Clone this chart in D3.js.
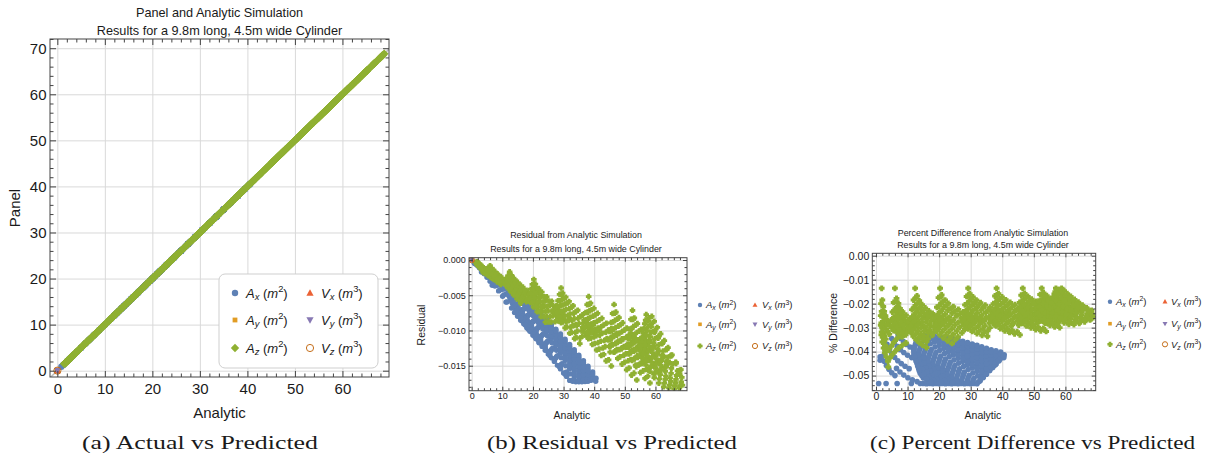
<!DOCTYPE html>
<html><head><meta charset="utf-8">
<script src="https://cdn.jsdelivr.net/npm/d3@7"></script>
<style>
body{margin:0;background:#fff}
svg{display:block}
text{font-family:"Liberation Sans",Arial,sans-serif;fill:#1a1a1a}
</style></head>
<body><svg id="chart" width="1208" height="462"></svg>
<script>
// ---------------- DATA ----------------
// Analytic value and percent difference (Panel vs Analytic) for A_x and A_z
const axPoints = [
[0.85,-.0533],[3.2,-.0533],[6.7,-.0533],[11.2,-.0533],[1.3,-.0422],[1.3,-.0436],
[2.1,-.0320],[2.3,-.0335],[2.5,-.0350],[2.6,-.0365],[2.8,-.0380],[3.0,-.0395],
[2.0,-.0420],[2.6,-.0440],[3.3,-.0458],[4.1,-.0474],[5.0,-.0488],[6.0,-.0500],
[3.5,-.0370],[4.2,-.0390],[5.0,-.0408],[5.9,-.0424],[6.9,-.0438],[8.0,-.0450],[9.2,-.0461],[10.5,-.0471],
[5.0,-.0345],[5.8,-.0362],[6.7,-.0378],[7.7,-.0392],[8.8,-.0404],[10.0,-.0415],[11.3,-.0425],
[7.0,-.0330],[7.8,-.0345],[8.7,-.0358],[9.7,-.0370],[10.8,-.0381],[12.0,-.0390],
[6.5,-.0470],[7.6,-.0485],[8.8,-.0498],[10.1,-.0509],[11.5,-.0518],[13.0,-.0525],
[13,-.0350],[14.5,-.0364],[16,-.0377],[17.5,-.0391],[19,-.0404],[20.5,-.0418],[22,-.0431],[23.5,-.0445],[25,-.0458],[26.5,-.0472],[28,-.0485],[29.5,-.0499],[31,-.0512],[32.5,-.0526],
[12.5,-.0370],[14,-.0384],[15.5,-.0397],[17,-.0411],[18.5,-.0424],[20,-.0438],[21.5,-.0451],[23,-.0465],[24.5,-.0478],[26,-.0492],[27.5,-.0505],[29,-.0519],[30.5,-.0532],
[12,-.0390],[13.5,-.0404],[15,-.0417],[16.5,-.0431],[18,-.0444],[19.5,-.0458],[21,-.0471],[22.5,-.0485],[24,-.0498],[25.5,-.0512],[27,-.0525],
[12,-.0410],[13.5,-.0424],[15,-.0437],[16.5,-.0451],[18,-.0464],[19.5,-.0478],[21,-.0491],[22.5,-.0505],[24,-.0518],[25.5,-.0532],
[12.5,-.0430],[14,-.0444],[15.5,-.0457],[17,-.0471],[18.5,-.0484],[20,-.0498],[21.5,-.0511],[23,-.0525],
[13,-.0450],[14.5,-.0464],[16,-.0477],[17.5,-.0491],[19,-.0504],[20.5,-.0518],[22,-.0531],
[13.5,-.0470],[15,-.0484],[16.5,-.0497],[18,-.0511],[19.5,-.0524],
[14,-.0490],[15.5,-.0504],[17,-.0517],[18.5,-.0531],[15,-.0510],[16.5,-.0524],
[15.5,-.0333],[17,-.0347],[18.5,-.0360],[20,-.0374],[21.5,-.0387],[23,-.0401],[24.5,-.0414],[26,-.0428],[27.5,-.0441],[29,-.0455],[30.5,-.0468],[32,-.0482],[33.5,-.0495],
[18.5,-.0335],[20,-.0349],[21.5,-.0362],[23,-.0376],[24.5,-.0389],[26,-.0403],[27.5,-.0416],[29,-.0430],[30.5,-.0443],[32,-.0457],[33.5,-.0470],[35,-.0484],
[21.5,-.0340],[23,-.0354],[24.5,-.0367],[26,-.0381],[27.5,-.0394],[29,-.0408],[30.5,-.0421],[32,-.0435],[33.5,-.0448],[35,-.0462],[36.2,-.0473],
[24.5,-.0347],[26,-.0361],[27.5,-.0374],[29,-.0388],[30.5,-.0401],[32,-.0415],[33.5,-.0428],[35,-.0442],[36.5,-.0455],
[27.5,-.0357],[29,-.0371],[30.5,-.0384],[32,-.0398],[33.5,-.0411],[35,-.0425],[36.5,-.0438],[38,-.0452],
[30.5,-.0368],[32,-.0382],[33.5,-.0395],[35,-.0409],[36.5,-.0422],[38,-.0436],
[33.5,-.0380],[35,-.0394],[36.5,-.0407],[38,-.0421],[39.2,-.0432],
[36.5,-.0392],[38,-.0406],[39.5,-.0419],[40.5,-.0425],[39.5,-.0402],[40.6,-.0413],
[14,-.0533],[15,-.0533],[16,-.0534],[17,-.0533],[18,-.0534],[19,-.0533],[20,-.0534],[21,-.0533],[22,-.0534],[23,-.0533],
[24,-.0534],[25,-.0533],[26,-.0534],[27,-.0533],[28,-.0534],[29,-.0533],[30,-.0534],[31,-.0533],[32,-.0534],
[33,-.0522],[34,-.0508],[35,-.0494],[36,-.0480],[37,-.0466],[38,-.0452],[39,-.0438],[40,-.0424],
[12.7,-.0360],[14.2,-.0374],[15.7,-.0387],[17.2,-.0401],[18.7,-.0414],[20.2,-.0428],[21.7,-.0441],[23.2,-.0455],[24.7,-.0468],[26.2,-.0482],[27.7,-.0495],[29.2,-.0509],[30.7,-.0522],
[12.2,-.0380],[13.7,-.0394],[15.2,-.0407],[16.7,-.0421],[18.2,-.0434],[19.7,-.0448],[21.2,-.0461],[22.7,-.0475],[24.2,-.0488],[25.7,-.0502],[27.2,-.0515],[28.7,-.0529],
[12.0,-.0400],[13.5,-.0414],[15.0,-.0427],[16.5,-.0441],[18.0,-.0454],[19.5,-.0468],[21.0,-.0481],[22.5,-.0495],[24.0,-.0508],[25.5,-.0522],
[12.2,-.0420],[13.7,-.0434],[15.2,-.0447],[16.7,-.0461],[18.2,-.0474],[19.7,-.0488],[21.2,-.0501],[22.7,-.0515],[24.2,-.0528],
[12.7,-.0440],[14.2,-.0454],[15.7,-.0467],[17.2,-.0481],[18.7,-.0494],[20.2,-.0508],[21.7,-.0521],
[13.2,-.0460],[14.7,-.0474],[16.2,-.0487],[17.7,-.0501],[19.2,-.0514],[20.7,-.0528],
[13.7,-.0480],[15.2,-.0494],[16.7,-.0507],[18.2,-.0521],[14.5,-.0500],[16.0,-.0514],[17.5,-.0527],
[14.2,-.0340],[15.7,-.0354],[17.2,-.0367],[18.7,-.0381],[20.2,-.0394],[21.7,-.0408],[23.2,-.0421],[24.7,-.0435],[26.2,-.0448],[27.7,-.0462],[29.2,-.0475],[30.7,-.0489],[32.2,-.0502],[33.2,-.0514],
[17.0,-.0334],[18.5,-.0348],[20.0,-.0361],[21.5,-.0375],[23.0,-.0388],[24.5,-.0402],[26.0,-.0415],[27.5,-.0429],[29.0,-.0442],[30.5,-.0456],[32.0,-.0469],[33.5,-.0483],[34.8,-.0494],
[20.0,-.0337],[21.5,-.0351],[23.0,-.0364],[24.5,-.0378],[26.0,-.0391],[27.5,-.0405],[29.0,-.0418],[30.5,-.0432],[32.0,-.0445],[33.5,-.0459],[35.0,-.0472],
[23.0,-.0343],[24.5,-.0357],[26.0,-.0370],[27.5,-.0384],[29.0,-.0397],[30.5,-.0411],[32.0,-.0424],[33.5,-.0438],[35.0,-.0451],[36.5,-.0465],
[26.0,-.0351],[27.5,-.0365],[29.0,-.0378],[30.5,-.0392],[32.0,-.0405],[33.5,-.0419],[35.0,-.0432],[36.5,-.0446],[37.6,-.0457],
[29.0,-.0362],[30.5,-.0376],[32.0,-.0389],[33.5,-.0403],[35.0,-.0416],[36.5,-.0430],[38.0,-.0443],
[32.0,-.0374],[33.5,-.0388],[35.0,-.0401],[36.5,-.0415],[38.0,-.0428],[38.8,-.0438],
[35.0,-.0386],[36.5,-.0400],[38.0,-.0413],[39.5,-.0427],[38.0,-.0397],[39.5,-.0410],[40.4,-.0419]
];
const azPoints = [
[1.8,-.0136],[2.0,-.0185],[2.3,-.0212],[2.6,-.0232],[3.0,-.0250],[3.4,-.0265],[3.9,-.0279],[4.4,-.0291],[5.0,-.0302],[5.6,-.0312],
[1.6,-.0200],[1.8,-.0232],[2.1,-.0255],[2.4,-.0274],[2.8,-.0290],[3.2,-.0304],[3.7,-.0316],[4.2,-.0327],
[1.5,-.0250],[1.7,-.0280],[2.0,-.0302],[2.3,-.0320],[2.7,-.0335],[3.1,-.0348],
[1.5,-.0290],[1.8,-.0318],[2.1,-.0340],[2.5,-.0358],[2.9,-.0373],[3.4,-.0387],
[1.7,-.0330],[2.0,-.0360],[2.4,-.0385],[2.8,-.0405],[3.3,-.0422],[3.8,-.0440],[3.9,-.0464],
[4.0,-.0395],[4.8,-.0378],[5.6,-.0362],[6.5,-.0348],[7.5,-.0336],[8.6,-.0325],[9.8,-.0316],
[4.5,-.0425],[5.3,-.0410],[6.2,-.0397],[7.2,-.0385],[8.3,-.0374],[9.5,-.0364],
[6.0,-.0136],[6.5,-.0178],[7.1,-.0199],[7.6,-.0220],[8.4,-.0234],[9.5,-.0248],[10.8,-.0262],[12.2,-.0273],[13.7,-.0283],
[5.6,-.0195],[6.1,-.0222],[6.7,-.0240],[7.4,-.0254],[8.2,-.0266],[9.1,-.0277],[10.1,-.0287],[11.2,-.0296],
[5.2,-.0235],[5.7,-.0258],[6.3,-.0274],[7.0,-.0288],[7.8,-.0299],[8.7,-.0309],[9.7,-.0318],
[4.8,-.0270],[5.3,-.0290],[5.9,-.0305],[6.6,-.0318],[7.4,-.0329],[8.3,-.0338],
[6.3,-.0190],[6.9,-.0212],[7.5,-.0230],[8.2,-.0244],[9.1,-.0257],[10.2,-.0270],[11.4,-.0280],[12.8,-.0289],
[5.8,-.0228],[6.4,-.0250],[7.1,-.0266],[7.9,-.0279],[8.8,-.0290],[9.8,-.0300],[10.9,-.0309],
[5.4,-.0262],[6.0,-.0282],[6.7,-.0297],[7.5,-.0310],[8.4,-.0321],[9.4,-.0330],
[12.4,-.0136],[13.0,-.0168],[13.7,-.0188],[14.6,-.0204],[15.6,-.0218],[16.7,-.0230],[17.9,-.0241],[19.2,-.0251],[20.6,-.0260],[22.1,-.0268],[23.7,-.0275],
[11.9,-.0185],[12.5,-.0207],[13.3,-.0224],[14.2,-.0238],[15.2,-.0250],[16.3,-.0261],[17.5,-.0271],[18.8,-.0280],[20.2,-.0288],
[11.4,-.0225],[12.0,-.0246],[12.8,-.0262],[13.7,-.0276],[14.7,-.0288],[15.8,-.0299],[17.0,-.0309],[18.3,-.0318],
[10.9,-.0262],[11.5,-.0283],[12.3,-.0299],[13.2,-.0313],[14.2,-.0325],[15.3,-.0336],[16.5,-.0346],
[10.4,-.0300],[11.0,-.0320],[11.8,-.0336],[12.7,-.0350],[13.7,-.0362],[14.8,-.0373],[16.0,-.0383],
[12.6,-.0175],[13.3,-.0197],[14.1,-.0214],[15.1,-.0228],[16.2,-.0241],[17.4,-.0252],[18.7,-.0262],[20.1,-.0271],[21.6,-.0279],[23.2,-.0286],
[12.1,-.0215],[12.8,-.0236],[13.7,-.0251],[14.7,-.0264],[15.8,-.0276],[17.0,-.0287],[18.3,-.0297],[19.7,-.0305],
[11.6,-.0255],[12.3,-.0273],[13.2,-.0288],[14.2,-.0301],[15.3,-.0313],[16.5,-.0323],[17.8,-.0332],
[11.1,-.0292],[11.8,-.0310],[12.7,-.0325],[13.7,-.0338],[14.8,-.0349],[16.0,-.0359],
[20.3,-.0136],[20.8,-.0164],[21.9,-.0185],[22.9,-.0199],[24.5,-.0213],[26.1,-.0224],[27.7,-.0234],[29.8,-.0248],[31.9,-.0258],[34.0,-.0269],
[19.8,-.0175],[20.6,-.0198],[21.6,-.0214],[22.8,-.0228],[24.1,-.0240],[25.5,-.0251],[27.0,-.0261],[28.6,-.0270],[30.3,-.0279],
[19.3,-.0215],[20.1,-.0236],[21.1,-.0252],[22.3,-.0266],[23.6,-.0278],[25.0,-.0289],[26.5,-.0299],[28.1,-.0308],
[18.8,-.0255],[19.6,-.0275],[20.6,-.0291],[21.8,-.0305],[23.1,-.0317],[24.5,-.0328],[26.0,-.0338],
[18.4,-.0295],[19.2,-.0314],[20.2,-.0330],[21.4,-.0343],[22.7,-.0355],[24.1,-.0366],
[20.5,-.0172],[21.3,-.0192],[22.4,-.0207],[23.7,-.0220],[25.1,-.0232],[26.6,-.0243],[28.2,-.0252],[29.9,-.0262],[31.7,-.0270],[33.4,-.0278],
[20.0,-.0210],[20.8,-.0229],[21.9,-.0244],[23.2,-.0257],[24.6,-.0268],[26.1,-.0278],[27.7,-.0287],[29.4,-.0295],
[19.5,-.0250],[20.3,-.0267],[21.4,-.0281],[22.7,-.0293],[24.1,-.0304],[25.6,-.0314],[27.2,-.0322],
[19.0,-.0288],[19.8,-.0304],[20.9,-.0318],[22.2,-.0330],[23.6,-.0341],[25.1,-.0350],
[29.2,-.0136],[29.7,-.0158],[30.7,-.0172],[31.8,-.0185],[33.1,-.0196],[34.6,-.0206],[36.2,-.0215],[37.9,-.0224],[39.7,-.0232],[41.6,-.0240],
[28.7,-.0170],[29.5,-.0190],[30.6,-.0204],[31.9,-.0216],[33.3,-.0227],[34.8,-.0237],[36.4,-.0246],[38.1,-.0254],[39.9,-.0262],
[28.2,-.0205],[29.0,-.0224],[30.1,-.0238],[31.4,-.0250],[32.8,-.0261],[34.3,-.0271],[35.9,-.0280],[37.6,-.0288],
[27.7,-.0240],[28.5,-.0258],[29.6,-.0272],[30.9,-.0284],[32.3,-.0295],[33.8,-.0305],[35.4,-.0313],
[27.3,-.0275],[28.1,-.0292],[29.2,-.0305],[30.5,-.0316],[32.0,-.0325],[33.6,-.0332],[35.3,-.0336],
[29.4,-.0165],[30.2,-.0182],[31.3,-.0195],[32.6,-.0206],[34.0,-.0216],[35.5,-.0226],[37.2,-.0235],[38.9,-.0243],[40.7,-.0251],
[28.9,-.0200],[29.7,-.0215],[30.8,-.0228],[32.1,-.0239],[33.5,-.0249],[35.0,-.0258],[36.6,-.0267],[38.3,-.0275],
[28.4,-.0233],[29.2,-.0249],[30.3,-.0262],[31.6,-.0273],[33.0,-.0283],[34.5,-.0292],[36.1,-.0300],
[27.9,-.0268],[28.7,-.0283],[29.8,-.0295],[31.1,-.0306],[32.6,-.0315],[34.2,-.0322],
[38.2,-.0136],[38.8,-.0158],[39.9,-.0172],[41.1,-.0184],[42.5,-.0195],[44.0,-.0204],[45.6,-.0213],[47.3,-.0221],[49.1,-.0228],[51.0,-.0235],
[37.7,-.0168],[38.5,-.0187],[39.6,-.0201],[40.9,-.0213],[42.3,-.0224],[43.8,-.0234],[45.4,-.0243],[47.1,-.0251],[48.9,-.0258],
[37.2,-.0200],[38.0,-.0218],[39.1,-.0232],[40.4,-.0244],[41.8,-.0255],[43.3,-.0264],[44.9,-.0273],[46.6,-.0280],
[36.7,-.0232],[37.5,-.0249],[38.6,-.0262],[39.9,-.0274],[41.3,-.0284],[42.8,-.0292],
[36.2,-.0264],[37.0,-.0280],[38.1,-.0293],[39.4,-.0304],[40.8,-.0313],[42.3,-.0320],[43.9,-.0326],[45.6,-.0330],
[38.4,-.0164],[39.2,-.0180],[40.4,-.0193],[41.7,-.0204],[43.1,-.0214],[44.6,-.0223],[46.2,-.0232],[47.9,-.0240],[49.7,-.0247],
[37.9,-.0195],[38.7,-.0210],[39.9,-.0223],[41.2,-.0234],[42.6,-.0244],[44.1,-.0253],[45.7,-.0261],[47.4,-.0268],
[37.4,-.0227],[38.2,-.0241],[39.4,-.0253],[40.7,-.0264],[42.1,-.0274],[43.6,-.0282],[45.2,-.0289],
[36.9,-.0259],[37.7,-.0273],[38.9,-.0285],[40.2,-.0295],[41.6,-.0304],[43.1,-.0311],[44.7,-.0317],
[46.5,-.0136],[47.1,-.0157],[48.1,-.0170],[49.3,-.0181],[50.6,-.0191],[52.0,-.0200],[53.5,-.0208],[55.1,-.0216],[56.8,-.0223],
[46.0,-.0165],[46.8,-.0183],[47.9,-.0196],[49.1,-.0207],[50.5,-.0217],[52.0,-.0226],[53.6,-.0234],[55.3,-.0241],[57.0,-.0248],
[45.5,-.0195],[46.3,-.0212],[47.4,-.0225],[48.7,-.0236],[50.1,-.0246],[51.6,-.0254],[53.2,-.0262],[54.9,-.0269],
[45.0,-.0225],[45.8,-.0241],[46.9,-.0253],[48.2,-.0264],[49.6,-.0273],[51.1,-.0280],
[44.5,-.0255],[45.3,-.0270],[46.4,-.0282],[47.7,-.0293],[49.1,-.0301],[50.6,-.0308],[52.2,-.0313],[53.9,-.0316],
[46.7,-.0162],[47.5,-.0177],[48.6,-.0189],[49.9,-.0199],[51.3,-.0208],[52.8,-.0217],[54.4,-.0225],[56.1,-.0232],
[46.2,-.0190],[47.0,-.0204],[48.2,-.0216],[49.5,-.0226],[50.9,-.0235],[52.4,-.0244],[54.0,-.0252],[55.7,-.0259],
[45.7,-.0220],[46.5,-.0233],[47.7,-.0245],[49.0,-.0255],[50.4,-.0264],[51.9,-.0272],[53.5,-.0279],
[45.2,-.0250],[46.0,-.0262],[47.2,-.0273],[48.5,-.0283],[49.9,-.0291],[51.4,-.0298],[53.0,-.0303],
[52.5,-.0136],[53.1,-.0155],[54.1,-.0167],[55.3,-.0178],[56.6,-.0187],[58.0,-.0196],[59.5,-.0204],[61.1,-.0211],[62.8,-.0218],[64.6,-.0225],
[52.0,-.0162],[52.8,-.0179],[53.9,-.0191],[55.1,-.0202],[56.5,-.0211],[58.0,-.0220],[59.6,-.0228],[61.3,-.0235],[63.0,-.0242],
[51.5,-.0190],[52.3,-.0206],[53.4,-.0218],[54.7,-.0229],[56.1,-.0238],[57.6,-.0247],[59.2,-.0254],[60.9,-.0261],
[51.0,-.0218],[51.8,-.0233],[52.9,-.0245],[54.2,-.0255],[55.6,-.0264],[57.1,-.0272],
[50.5,-.0245],[51.3,-.0260],[52.4,-.0272],[53.7,-.0282],[55.1,-.0290],[56.6,-.0297],[58.2,-.0300],
[52.7,-.0160],[53.5,-.0173],[54.6,-.0185],[55.9,-.0195],[57.3,-.0204],[58.8,-.0212],[60.4,-.0220],[62.0,-.0227],[63.7,-.0233],
[52.2,-.0187],[53.0,-.0200],[54.2,-.0211],[55.5,-.0221],[56.9,-.0230],[58.4,-.0238],[60.0,-.0245],[61.7,-.0252],
[51.7,-.0215],[52.5,-.0227],[53.7,-.0238],[55.0,-.0248],[56.4,-.0257],[57.9,-.0265],[59.5,-.0272],
[51.2,-.0242],[52.0,-.0253],[53.2,-.0264],[54.5,-.0273],[56.0,-.0281],[57.5,-.0287],
[57.0,-.0136],[57.7,-.0150],[58.6,-.0162],[59.7,-.0172],[60.9,-.0182],[62.2,-.0191],[63.6,-.0200],[65.1,-.0209],[66.7,-.0218],[68.3,-.0228],
[58.8,-.0136],[59.6,-.0146],[60.6,-.0158],[61.7,-.0170],[62.9,-.0182],[64.1,-.0194],[65.4,-.0206],[66.7,-.0220],[67.9,-.0238],[68.8,-.0258],
[56.5,-.0160],[57.3,-.0175],[58.3,-.0187],[59.4,-.0198],[60.7,-.0208],[62.1,-.0218],[63.6,-.0227],[65.2,-.0236],[66.9,-.0245],[68.4,-.0253],
[56.0,-.0185],[56.8,-.0200],[57.8,-.0212],[59.0,-.0223],[60.3,-.0233],[61.7,-.0242],[63.2,-.0250],[64.8,-.0258],[66.5,-.0262],
[55.5,-.0210],[56.3,-.0225],[57.4,-.0237],[58.7,-.0247],[60.1,-.0256],[61.6,-.0264],[63.2,-.0268],
[55.0,-.0235],[55.8,-.0250],[56.9,-.0262],[58.2,-.0272],[59.6,-.0280],[61.1,-.0286],[62.7,-.0287],[64.4,-.0282],[66.1,-.0276],[67.8,-.0268],
[57.9,-.0142],[58.7,-.0155],[59.8,-.0167],[61.0,-.0178],[62.3,-.0188],[63.7,-.0198],[65.1,-.0208],[66.6,-.0218],[68.0,-.0230],
[56.8,-.0150],[57.6,-.0164],[58.6,-.0176],[59.8,-.0187],[61.1,-.0197],[62.5,-.0207],[64.0,-.0216],[65.6,-.0225],[67.2,-.0234],[68.6,-.0243],
[56.2,-.0173],[57.0,-.0188],[58.1,-.0200],[59.3,-.0211],[60.6,-.0221],[62.0,-.0230],[63.5,-.0239],[65.1,-.0247],[66.7,-.0254],
[55.7,-.0198],[56.5,-.0213],[57.6,-.0225],[58.9,-.0235],[60.3,-.0245],[61.8,-.0253],[63.4,-.0260],[65.0,-.0265],
[55.2,-.0222],[56.0,-.0238],[57.1,-.0250],[58.4,-.0260],[59.8,-.0268],[61.3,-.0275],[62.9,-.0278],[64.6,-.0275],[66.3,-.0269],[68.0,-.0262]
];
// Analytic and Panel values for the series that sit at the origin
const ayPoints = [[0.02,0.02],[0.05,0.05]];
const vxPoints = [[0.01,0.01]];
const vyPoints = [[0.01,0.01]];
const vzPoints = [[0.01,0.01]];

const seriesKeys    = ['Ax','Ay','Az','Vx','Vy','Vz'];
const legendLetters = ['A','A','A','V','V','V'];
const legendSubs    = ['x','y','z','x','y','z'];
const legendPowers  = ['2','2','2','3','3','3'];
const seriesColors  = ['#5E81B5','#E19C24','#8FB032','#EB6235','#8778B3','#C56E1A'];

const xTicks        = [0,10,20,30,40,50,60];
const panelTicks    = [0,10,20,30,40,50,60,70];
const residualTicks = [0,-0.005,-0.010,-0.015];
const percentTicks  = [0,-0.01,-0.02,-0.03,-0.04,-0.05];

const titleLine1 = ['Panel and Analytic Simulation','Residual from Analytic Simulation','Percent Difference from Analytic Simulation'];
const titleLine2 = 'Results for a 9.8m long, 4.5m wide Cylinder';
const xLabel = 'Analytic';
const yLabels = ['Panel','Residual','% Difference'];
const captions = ['(a) Actual vs Predicted','(b) Residual vs Predicted','(c) Percent Difference vs Predicted'];

// ---------------- DRAWING ----------------
const svg = d3.select('#chart');

function symPath(kind, h){
  const p = d3.path();
  if(kind==='circle' || kind==='open'){ p.moveTo(h,0); p.arc(0,0,h,0,2*Math.PI); }
  else if(kind==='square'){ p.rect(-h,-h,2*h,2*h); }
  else if(kind==='diamond'){ p.moveTo(0,-h); p.lineTo(h,0); p.lineTo(0,h); p.lineTo(-h,0); p.closePath(); }
  else if(kind==='plus'){ const t=h*0.5; p.moveTo(-t,-h);p.lineTo(t,-h);p.lineTo(t,-t);p.lineTo(h,-t);p.lineTo(h,t);p.lineTo(t,t);p.lineTo(t,h);p.lineTo(-t,h);p.lineTo(-t,t);p.lineTo(-h,t);p.lineTo(-h,-t);p.lineTo(-t,-t);p.closePath(); }
  else if(kind==='triUp'){ p.moveTo(0,-h); p.lineTo(h*0.95,h*0.7); p.lineTo(-h*0.95,h*0.7); p.closePath(); }
  else if(kind==='triDown'){ p.moveTo(0,h); p.lineTo(h*0.95,-h*0.7); p.lineTo(-h*0.95,-h*0.7); p.closePath(); }
  return p.toString();
}
function drawMarker(g, key, cx, cy, sz, azKind){
  const i = seriesKeys.indexOf(key), col = seriesColors[i];
  const kinds = {Ax:['circle',sz.circle],Ay:['square',sz.square],Az:[azKind,sz.az],Vx:['triUp',sz.tri],Vy:['triDown',sz.tri],Vz:['open',sz.open]};
  const [k,h] = kinds[key];
  const el = g.append('path').attr('d', symPath(k,h)).attr('transform',`translate(${cx},${cy})`);
  if(k==='open') el.attr('fill','none').attr('stroke',col).attr('stroke-width',1);
  else el.attr('fill',col);
}

const charts = [
 {mode:'panel', l:50, r:389, t:39, b:377, xd:[-1.54,69.8], yd:[-1.37,72.0], yTicks:panelTicks,
  yMinor:d3.range(0,73,2).filter(v=>v%10!==0), yFmt:d3.format('d'), tickFs:15, padX:6, padY:3.5, maj:6, min:3.5,
  titleX:219.5, t1y:16.5, t2y:34.5, titleFs:12.7, xlY:418, xlX:219.5, ylX:15, ylY:208, labFs:15, azKind:'diamond',
  sz:{circle:3.2,square:2.6,az:4.3,tri:3.6,open:3.6}, refLine:true},
 {mode:'residual', l:469, r:687, t:257.7, b:390.7, xd:[-0.87,70.3], yd:[-0.01855,0.00033], yTicks:residualTicks,
  yMinor:d3.range(-18,1).filter(v=>v%5!==0).map(v=>v*0.001), yFmt:d3.format('.3f'), tickFs:9, padX:1.5, padY:3.3, maj:4, min:2.5,
  titleX:576, t1y:238.3, t2y:251.5, titleFs:8.9, xlY:419, xlX:572, ylX:421.7, ylY:325, labFs:10.5, azKind:'plus',
  sz:{circle:2.7,square:1.9,az:2.8,tri:2.8,open:2.8}},
 {mode:'percent', l:872.3, r:1095.7, t:253.3, b:390.7, xd:[-1.17,69.6], yd:[-0.0563,0.001], yTicks:percentTicks,
  yMinor:d3.range(-28,1).filter(v=>v%5!==0).map(v=>v*0.002), yFmt:d3.format('.2f'), tickFs:10.5, padX:1.5, padY:3, maj:4, min:2.5,
  titleX:983, t1y:235.5, t2y:247.8, titleFs:8.9, xlY:419, xlX:983, ylX:833.3, ylY:323, labFs:10.5, azKind:'plus',
  sz:{circle:2.8,square:1.9,az:2.9,tri:2.8,open:2.8}}
];

charts.forEach((c, ci) => {
  const x = d3.scaleLinear().domain(c.xd).range([c.l, c.r]);
  const y = d3.scaleLinear().domain(c.yd).range([c.b, c.t]);
  const W = c.r - c.l, H = c.b - c.t;
  const g = svg.append('g');
  const clean = s => { s.select('.domain').remove(); s.attr('font-family',null).attr('font-size',null).attr('fill',null); };
  const xMinor = d3.range(0,70,2).filter(v=>v%10!==0);

  g.append('g').attr('transform',`translate(0,${c.b})`)
    .call(d3.axisBottom(x).tickValues(xTicks).tickSize(-H).tickFormat(''))
    .call(clean).selectAll('line').attr('stroke','#d9d9d9');
  g.append('g').attr('transform',`translate(${c.l},0)`)
    .call(d3.axisLeft(y).tickValues(c.yTicks).tickSize(-W).tickFormat(''))
    .call(clean).selectAll('line').attr('stroke','#d9d9d9');

  const cid = 'clip'+ci;
  svg.append('clipPath').attr('id',cid).append('rect').attr('x',c.l).attr('y',c.t).attr('width',W).attr('height',H);
  const pg = g.append('g').attr('clip-path',`url(#${cid})`);

  if(c.refLine){
    pg.append('line').attr('x1',x(-5)).attr('y1',y(-5)).attr('x2',x(80)).attr('y2',y(80))
      .attr('stroke','#bdbdbd').attr('stroke-width',1.5);
  }

  const valOf = (a, pct) => c.mode==='panel' ? a + pct/100*a : (c.mode==='residual' ? pct/100*a : pct);
  const valOrigin = (a, p) => c.mode==='panel' ? p : (c.mode==='residual' ? p - a : null);

  const seriesData = {
    Ax: axPoints.map(d=>[d[0], valOf(d[0], d[1])]),
    Ay: ayPoints.map(d=>[d[0], valOrigin(d[0], d[1])]),
    Az: azPoints.map(d=>[d[0], valOf(d[0], d[1])]),
    Vx: vxPoints.map(d=>[d[0], valOrigin(d[0], d[1])]),
    Vy: vyPoints.map(d=>[d[0], valOrigin(d[0], d[1])]),
    Vz: vzPoints.map(d=>[d[0], valOrigin(d[0], d[1])])
  };
  seriesKeys.forEach(k => {
    seriesData[k].forEach(d => {
      if(d[1]===null) return;
      drawMarker(pg, k, x(d[0]), y(d[1]), c.sz, c.azKind);
    });
  });

  g.append('rect').attr('x',c.l).attr('y',c.t).attr('width',W).attr('height',H)
    .attr('fill','none').attr('stroke','#444').attr('stroke-width',1);

  const tickCol = '#444';
  const styleAx = (s) => { clean(s); s.attr('color',tickCol); };
  const bAx = g.append('g').attr('transform',`translate(0,${c.b})`)
    .call(d3.axisBottom(x).tickValues(xTicks).tickSizeInner(-c.maj).tickSizeOuter(0).tickPadding(c.padX).tickFormat(d3.format('d')))
    .call(styleAx);
  bAx.selectAll('text').attr('font-size',c.tickFs).style('fill','#1a1a1a');
  g.append('g').attr('transform',`translate(0,${c.b})`)
    .call(d3.axisBottom(x).tickValues(xMinor).tickSizeInner(-c.min).tickSizeOuter(0).tickFormat('')).call(styleAx);
  g.append('g').attr('transform',`translate(0,${c.t})`)
    .call(d3.axisTop(x).tickValues(xTicks).tickSizeInner(-c.maj).tickSizeOuter(0).tickFormat('')).call(styleAx);
  g.append('g').attr('transform',`translate(0,${c.t})`)
    .call(d3.axisTop(x).tickValues(xMinor).tickSizeInner(-c.min).tickSizeOuter(0).tickFormat('')).call(styleAx);
  const lAx = g.append('g').attr('transform',`translate(${c.l},0)`)
    .call(d3.axisLeft(y).tickValues(c.yTicks).tickSizeInner(-c.maj).tickSizeOuter(0).tickPadding(c.padY).tickFormat(c.yFmt))
    .call(styleAx);
  lAx.selectAll('text').attr('font-size',c.tickFs).style('fill','#1a1a1a');
  g.append('g').attr('transform',`translate(${c.l},0)`)
    .call(d3.axisLeft(y).tickValues(c.yMinor).tickSizeInner(-c.min).tickSizeOuter(0).tickFormat('')).call(styleAx);
  g.append('g').attr('transform',`translate(${c.r},0)`)
    .call(d3.axisRight(y).tickValues(c.yTicks).tickSizeInner(-c.maj).tickSizeOuter(0).tickFormat('')).call(styleAx);
  g.append('g').attr('transform',`translate(${c.r},0)`)
    .call(d3.axisRight(y).tickValues(c.yMinor).tickSizeInner(-c.min).tickSizeOuter(0).tickFormat('')).call(styleAx);

  g.append('text').attr('x',c.titleX).attr('y',c.t1y).attr('text-anchor','middle').attr('font-size',c.titleFs).text(titleLine1[ci]);
  g.append('text').attr('x',c.titleX).attr('y',c.t2y).attr('text-anchor','middle').attr('font-size',c.titleFs).text(titleLine2);
  g.append('text').attr('x',c.xlX).attr('y',c.xlY).attr('text-anchor','middle').attr('font-size',c.labFs).text(xLabel);
  g.append('text').attr('transform',`translate(${c.ylX},${c.ylY}) rotate(-90)`).attr('text-anchor','middle')
    .attr('dy','0.35em').attr('font-size',c.labFs).text(yLabels[ci]);
});

const legends = [
 {box:[219,274,159,94], mx:[235,310], tx:[246,321], ys:[293,320,348], fs:13, azKind:'diamond',
  sz:{circle:3.2,square:2.4,az:4.2,tri:3.8,open:3.6}},
 {mx:[700,755], tx:[706,762], ys:[305,324.3,346], fs:9.5, azKind:'plus',
  sz:{circle:2.2,square:1.8,az:2.6,tri:2.6,open:2.6}},
 {mx:[1110,1165], tx:[1116,1171], ys:[301.7,323.7,344.3], fs:9.5, azKind:'plus',
  sz:{circle:2.2,square:1.8,az:2.6,tri:2.6,open:2.6}}
];
legends.forEach(L => {
  const g = svg.append('g');
  if(L.box){
    g.append('rect').attr('x',L.box[0]).attr('y',L.box[1]).attr('width',L.box[2]).attr('height',L.box[3])
      .attr('rx',6).attr('fill','#fff').attr('stroke','#cfcfcf').attr('stroke-width',1);
  }
  seriesKeys.forEach((k,i) => {
    const col = Math.floor(i/3), row = i%3;
    const cy = L.ys[row];
    drawMarker(g, k, L.mx[col], cy, L.sz, L.azKind);
    const fs = L.fs;
    const t = g.append('text').attr('x',L.tx[col]).attr('y',cy).attr('dy','0.35em').attr('font-size',fs);
    t.append('tspan').attr('font-style','italic').text(legendLetters[i]);
    t.append('tspan').attr('font-style','italic').attr('font-size',fs*0.72).attr('dy',fs*0.22).text(legendSubs[i]);
    t.append('tspan').attr('dy',-fs*0.22).text(' (');
    t.append('tspan').attr('font-style','italic').text('m');
    t.append('tspan').attr('font-size',fs*0.72).attr('dy',-fs*0.4).text(legendPowers[i]);
    t.append('tspan').attr('dy',fs*0.4).text(')');
  });
});

const capPos = [[82,318],[487,737],[870,1195]];
captions.forEach((s,i) => {
  svg.append('text').attr('x',capPos[i][0]).attr('y',449)
    .attr('textLength',capPos[i][1]-capPos[i][0]).attr('lengthAdjust','spacingAndGlyphs')
    .style('font-family','"Liberation Serif","Times New Roman",serif').attr('font-size',19).text(s);
});
</script>
</body></html>
